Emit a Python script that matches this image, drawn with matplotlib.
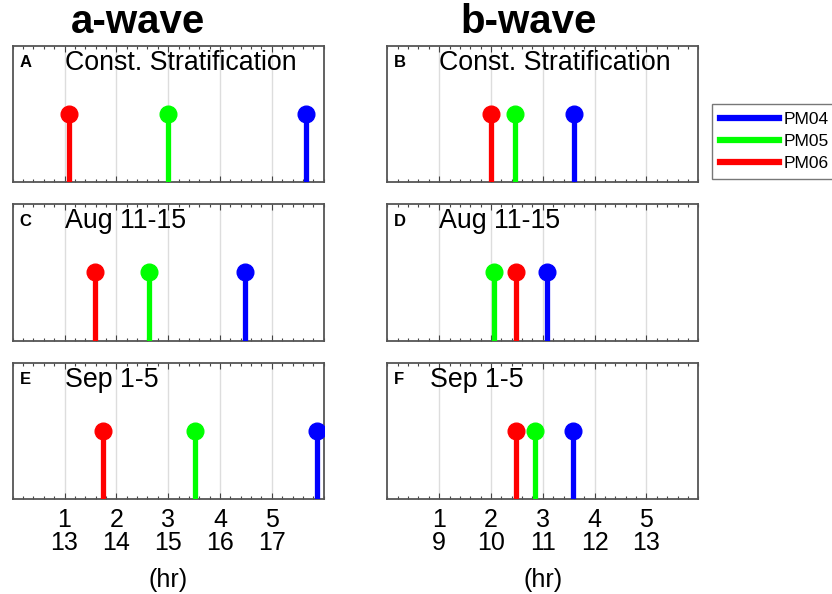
import matplotlib
matplotlib.use("Agg")
import matplotlib.pyplot as plt
from matplotlib.ticker import MultipleLocator
from matplotlib.lines import Line2D

plt.rcParams["font.family"] = ["Liberation Sans", "DejaVu Sans"]

# ---------------------------------------------------------------------------
# data (hours after reference time)
# ---------------------------------------------------------------------------
stations = ["PM04", "PM05", "PM06"]
colors = ["#0000ff", "#00ff00", "#ff0000"]

periods = ["Const. Stratification", "Aug 11-15", "Sep 1-5"]
a_letters = ["A", "C", "E"]
b_letters = ["B", "D", "F"]

# a-wave arrival times per period
a_pm04 = [5.65, 4.49, 5.88]
a_pm05 = [3.00, 2.62, 3.52]
a_pm06 = [1.08, 1.59, 1.75]

# b-wave arrival times per period
b_pm04 = [3.60, 3.08, 3.59]
b_pm05 = [2.46, 2.05, 2.85]
b_pm06 = [2.00, 2.49, 2.49]

tick_vals = [1, 2, 3, 4, 5]
a_clock = [13, 14, 15, 16, 17]
b_clock = [9, 10, 11, 12, 13]

# ---------------------------------------------------------------------------
# layout
# ---------------------------------------------------------------------------
W, H = 832, 594
fig = plt.figure(figsize=(W / 100, H / 100), dpi=100)

col_x = [12.7, 387.3]
col_w = 311.0
row_top = [45.7, 204.0, 362.7]
row_h = 136.5


def make_ax(ci, ri):
    left = col_x[ci] / W
    bottom = 1 - (row_top[ri] + row_h) / H
    return fig.add_axes([left, bottom, col_w / W, row_h / H])


def draw_panel(ax, times, letter, label, text_x, clock, bottom_row):
    for t, c in zip(times, colors):
        ax.vlines(t, 0, 1, color=c, lw=3.8, zorder=3)
        ax.plot(t, 1, "o", color=c, ms=12, zorder=4)
    ax.set_xlim(0, 6)
    ax.set_ylim(0, 2)
    ax.set_yticks([])
    ax.xaxis.set_minor_locator(MultipleLocator(0.2))
    ax.set_xticks(tick_vals)
    ax.tick_params(axis="x", which="both", direction="in", top=True,
                   bottom=True, color="#444444", width=0.8)
    ax.tick_params(axis="x", which="major", length=4)
    ax.tick_params(axis="x", which="minor", length=2.5)
    ax.grid(axis="x", which="major", color="#dddddd", lw=1)
    ax.set_axisbelow(True)
    for s in ax.spines.values():
        s.set_color("#555555")
        s.set_linewidth(1.3)
    if bottom_row:
        ax.set_xticklabels([f"{v}\n{c}" for v, c in zip(tick_vals, clock)],
                           fontsize=18, linespacing=0.95)
        ax.tick_params(axis="x", which="major", pad=6)
        ax.set_xlabel("(hr)", fontsize=18, labelpad=10)
    else:
        ax.set_xticklabels([])
    ax.text(0.13, 1.75, letter, fontsize=12, fontweight="bold",
            ha="left", va="center")
    ax.text(text_x, 1.75, label, fontsize=19.3, ha="left", va="center")


a_sets = list(zip(a_pm04, a_pm05, a_pm06))
b_sets = list(zip(b_pm04, b_pm05, b_pm06))
b_text_x = [1.0, 1.0, 0.83]

for ri in range(3):
    ax = make_ax(0, ri)
    draw_panel(ax, a_sets[ri], a_letters[ri], periods[ri], 1.0, a_clock, ri == 2)
    ax = make_ax(1, ri)
    draw_panel(ax, b_sets[ri], b_letters[ri], periods[ri], b_text_x[ri], b_clock, ri == 2)

# column titles
fig.text(138 / W, 1 - 22 / H, "a-wave", fontsize=29, fontweight="bold",
         ha="center", va="center")
fig.text(529 / W, 1 - 22 / H, "b-wave", fontsize=29, fontweight="bold",
         ha="center", va="center")

# legend box runs off the right edge like the original
handles = [Line2D([0], [0], color=c, lw=4.5) for c in colors]
fig.legend(handles, stations, loc="upper left",
           bbox_to_anchor=(712 / W, 1 - 104 / H), fontsize=12.5,
           frameon=True, fancybox=False, edgecolor="#555555",
           handlelength=3.4, handletextpad=0.3, labelspacing=0.4,
           borderpad=0.45, borderaxespad=0)

plt.savefig("out.png", dpi=100)
